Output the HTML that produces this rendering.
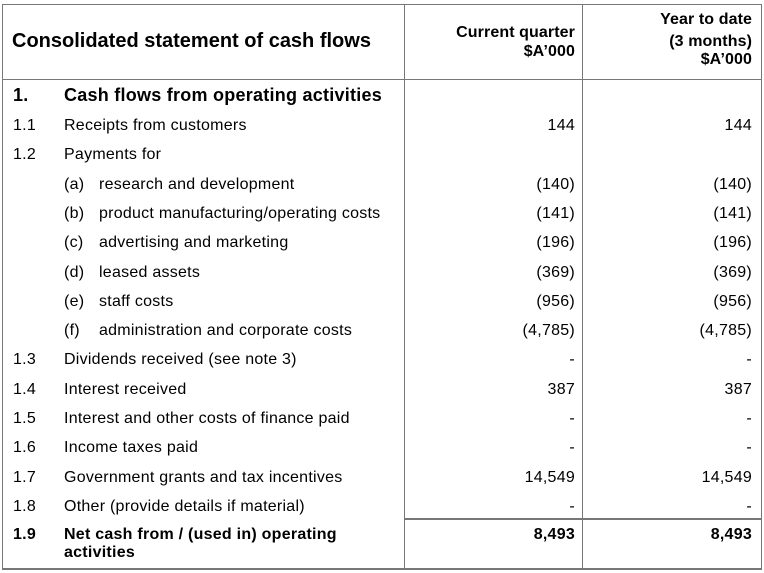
<!DOCTYPE html>
<html><head><style>
body{margin:0;width:764px;height:573px;background:#fff;font-family:"Liberation Sans",Arial,sans-serif;color:#000;position:relative;overflow:hidden}
.t{position:absolute;white-space:nowrap;font-size:16px;letter-spacing:0.25px}
.b{font-weight:bold}
.r{text-align:right}
.ln{position:absolute;background:#777}
</style></head><body>
<div class="ln" style="left:2px;top:4px;width:760px;height:1px"></div>
<div class="ln" style="left:2px;top:568px;width:760px;height:2px"></div>
<div class="ln" style="left:2px;top:4px;width:1px;height:565px"></div>
<div class="ln" style="left:761px;top:4px;width:1px;height:565px"></div>
<div class="ln" style="left:404px;top:4px;width:1px;height:565px"></div>
<div class="ln" style="left:582px;top:4px;width:1px;height:565px"></div>
<div class="ln" style="left:2px;top:79px;width:760px;height:1px"></div>
<div class="ln" style="left:404px;top:518px;width:358px;height:2px"></div>

<div class="t b" style="left:12px;top:30px;font-size:20px;letter-spacing:0">Consolidated statement of cash flows</div>
<div class="t b r" style="right:189px;top:23px;line-height:19px;letter-spacing:0.1px">Current quarter<br>$A’000</div>
<div class="t b r" style="right:12px;top:9px;line-height:22px;letter-spacing:0.1px">Year to date<br>(3 months)<br><span style="position:relative;top:-4px">$A’000</span></div>

<div class="t b" style="left:13px;top:85px;font-size:18px;letter-spacing:0.25px">1.</div>
<div class="t b" style="left:64px;top:85px;font-size:18px;letter-spacing:0.25px">Cash flows from operating activities</div>

<div id="rows"></div>
<div class="t b" style="left:13px;top:526px">1.9</div>
<div class="t b" style="left:64px;top:526px;line-height:18px">Net cash from / (used in) operating<br>activities</div>
<div class="t b r" style="right:189px;top:526px">8,493</div>
<div class="t b r" style="right:12px;top:526px">8,493</div>
<script>
var d=[["1.1","Receipts from customers","144"],["1.2","Payments for",""],
["","(a)|research and development","(140)"],["","(b)|product manufacturing/operating costs","(141)"],
["","(c)|advertising and marketing","(196)"],["","(d)|leased assets","(369)"],["","(e)|staff costs","(956)"],
["","(f)|administration and corporate costs","(4,785)"],["1.3","Dividends received (see note 3)","-"],
["1.4","Interest received","387"],["1.5","Interest and other costs of finance paid","-"],["1.6","Income taxes paid","-"],
["1.7","Government grants and tax incentives","14,549"],["1.8","Other (provide details if material)","-"]];
var h="";d.forEach(function(r,i){var y=117+i*29.3;
h+='<div class="t" style="left:13px;top:'+y+'px">'+r[0]+'</div>';
if(r[1].indexOf("|")>0){var p=r[1].split("|");h+='<div class="t" style="left:64px;top:'+y+'px">'+p[0]+'</div><div class="t" style="left:99px;top:'+y+'px">'+p[1]+'</div>';}
else h+='<div class="t" style="left:64px;top:'+y+'px">'+r[1]+'</div>';
if(r[2]){h+='<div class="t r" style="right:189px;top:'+y+'px">'+r[2]+'</div><div class="t r" style="right:12px;top:'+y+'px">'+r[2]+'</div>';}
});document.getElementById("rows").outerHTML=h;
</script>
</body></html>
